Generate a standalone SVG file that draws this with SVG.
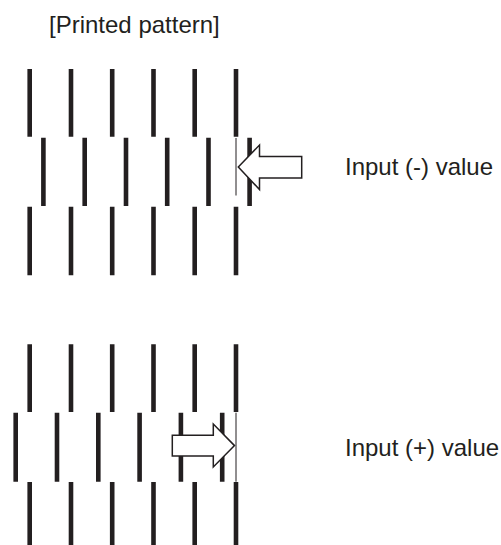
<svg xmlns="http://www.w3.org/2000/svg" width="501" height="545" viewBox="0 0 501 545">
<style>
.bar{stroke:#231f20;stroke-width:4.6;fill:none}
.thin{stroke:#231f20;stroke-width:1;fill:none}
.arrow{fill:#ffffff;stroke:#231f20;stroke-width:1.5;stroke-linejoin:miter}
.lbl{font-family:"Liberation Sans",Arial,sans-serif;font-size:24px;fill:#231f20}
</style>
<rect width="501" height="545" fill="#ffffff"/>
<text class="lbl" x="49" y="32.5">[Printed pattern]</text>
<g id="pattern-minus">
<g id="minus-top">
<path class="bar" d="M29.7 69V136.7M71 69V136.7M112.2 69V136.7M153.5 69V136.7M194.7 69V136.7M236 69V136.7"/>
</g>
<g id="minus-middle">
<path class="bar" d="M43.4 137.8V206M84.7 137.8V206M126 137.8V206M167.2 137.8V206M208.5 137.8V206M249.6 137.8V206"/>
</g>
<g id="minus-bottom">
<path class="bar" d="M29.7 206.7V275.3M71 206.7V275.3M112.2 206.7V275.3M153.5 206.7V275.3M194.7 206.7V275.3M236 206.7V275.3"/>
</g>
<line class="thin" x1="236" y1="138" x2="236" y2="195.5"/>
</g>
<g id="arrow-minus">
<polygon class="arrow" points="238.3,167 259.5,145 259.5,156.5 301.7,156.5 301.7,178 259.5,178 259.5,189.5"/>
</g>
<text class="lbl" x="345" y="175">Input (-) value</text>
<g id="pattern-plus">
<g id="plus-top">
<path class="bar" d="M29.7 344.3V412M71 344.3V412M112.2 344.3V412M153.5 344.3V412M194.7 344.3V412M236 344.3V412"/>
</g>
<g id="plus-middle">
<path class="bar" d="M15.7 412.7V481.7M57 412.7V481.7M98.3 412.7V481.7M139.6 412.7V481.7M180.9 412.7V481.7M222.2 412.7V481.7"/>
</g>
<g id="plus-bottom">
<path class="bar" d="M29.7 482V545M71 482V545M112.2 482V545M153.5 482V545M194.7 482V545M236 482V545"/>
</g>
<line class="thin" x1="236" y1="412.7" x2="236" y2="481.7"/>
</g>
<g id="arrow-plus">
<polygon class="arrow" points="172.3,435.2 213.3,435.2 213.3,424 234.5,445.6 213.3,467 213.3,456 172.3,456"/>
</g>
<text class="lbl" x="345" y="455.7">Input (+) value</text>
</svg>
